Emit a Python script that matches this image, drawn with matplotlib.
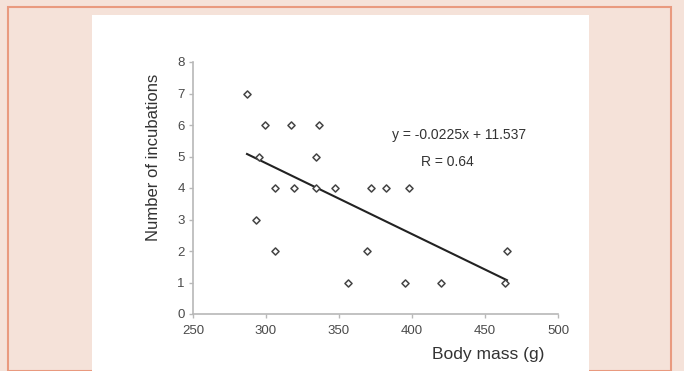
import matplotlib.pyplot as plt
from matplotlib.patches import Rectangle
import numpy as np

plt.rcParams['font.family'] = ['Liberation Sans', 'DejaVu Sans']

# body mass (g) and number of incubations
body_mass = [287, 299, 317, 336, 295, 334, 306, 319, 334, 347, 372, 382, 398,
             293, 306, 369, 465, 356, 395, 420, 464]
incubations = [7, 6, 6, 6, 5, 5, 4, 4, 4, 4, 4, 4, 4,
               3, 2, 2, 2, 1, 1, 1, 1]
slope = -0.0225
intercept = 11.537
r_value = 0.64
x_ticks = [250, 300, 350, 400, 450, 500]
y_ticks = [0, 1, 2, 3, 4, 5, 6, 7, 8]

W, H = 684, 371
fig = plt.figure(figsize=(W / 100, H / 100), dpi=100)
fig.patch.set_facecolor('#f5e2d9')
# outer border and white panel, kept under the axes
fig.patches.append(Rectangle((8 / W, 0), 663 / W, 1 - 7 / H, transform=fig.transFigure,
                             facecolor='none', edgecolor='#e99a7f', lw=1.5, zorder=-2))
fig.patches.append(Rectangle((92 / W, 0), 497 / W, 1 - 15 / H, transform=fig.transFigure,
                             facecolor='white', edgecolor='none', zorder=-1))

ax = fig.add_axes([193 / W, 1 - 314 / H, (558 - 193) / W, (314 - 62) / H])
ax.set_facecolor('white')
ax.scatter(body_mass, incubations, marker='D', s=13, facecolors='white',
           edgecolors='#444444', linewidths=1.1, zorder=3, clip_on=False)

xs = np.array([min(body_mass), max(body_mass)])
ax.plot(xs, slope * xs + intercept, color='#222222', lw=1.5, zorder=2)

ax.set_xlim(250, 500)
ax.set_ylim(0, 8)
ax.set_xticks(x_ticks)
ax.set_yticks(y_ticks)
for s in ('top', 'right'):
    ax.spines[s].set_visible(False)
for s in ('left', 'bottom'):
    ax.spines[s].set_color('#b8b8b8')
    ax.spines[s].set_linewidth(1.2)
ax.tick_params(colors='#b8b8b8', labelcolor='#4a4a4a', labelsize=9.5, length=3, width=1)
ax.tick_params(axis='x', pad=5)
ax.tick_params(axis='y', pad=3)

ax.text(459 / W, 1 - 135 / H, f'y = {slope}x + {intercept}', transform=fig.transFigure,
        ha='center', va='center', fontsize=10, color='#333333')
ax.text(447 / W, 1 - 162 / H, f'R = {r_value}', transform=fig.transFigure,
        ha='center', va='center', fontsize=10, color='#333333')

fig.text(154 / W, 1 - 157 / H, 'Number of incubations', rotation=90,
         ha='center', va='center', fontsize=12, color='#333333')
fig.text(488 / W, 1 - 354 / H, 'Body mass (g)', ha='center', va='center',
         fontsize=12.5, color='#333333')

fig.savefig('out.png', dpi=100, facecolor=fig.get_facecolor())
